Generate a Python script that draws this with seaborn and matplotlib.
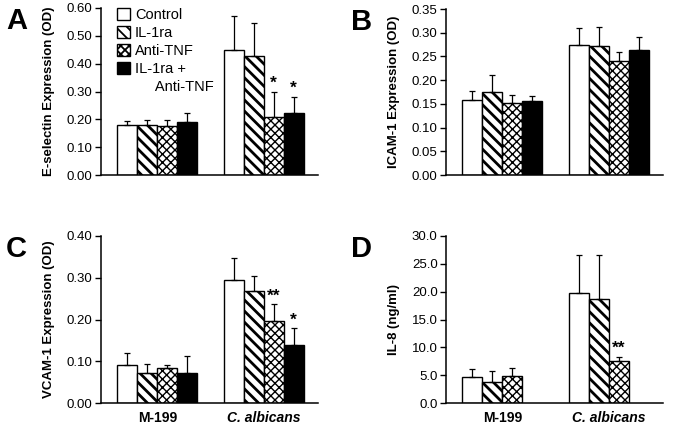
import numpy as np
import pandas as pd
import matplotlib
matplotlib.use("Agg")
import matplotlib.pyplot as plt
import matplotlib.patches as mpatches
import seaborn as sns

sns.set_theme(style="ticks")
plt.rcParams["font.family"] = ["Liberation Sans", "DejaVu Sans"]
plt.rcParams["hatch.linewidth"] = 1.3
plt.rcParams["text.color"] = "black"
plt.rcParams["xtick.color"] = "black"
plt.rcParams["ytick.color"] = "black"
plt.rcParams["axes.edgecolor"] = "black"
plt.rcParams["axes.labelcolor"] = "black"

# Data (mean, upward SD)
groups = ["M-199", "C. albicans"]
treatments = ["Control", "IL-1ra", "Anti-TNF", "IL-1ra + Anti-TNF"]

esel_mean = [[0.180, 0.178, 0.176, 0.192], [0.450, 0.428, 0.210, 0.222]]
esel_err = [[0.013, 0.020, 0.022, 0.030], [0.120, 0.117, 0.088, 0.060]]

icam_mean = [[0.158, 0.175, 0.152, 0.155], [0.275, 0.271, 0.240, 0.263]]
icam_err = [[0.020, 0.035, 0.017, 0.011], [0.035, 0.041, 0.020, 0.027]]

vcam_mean = [[0.090, 0.071, 0.083, 0.071], [0.295, 0.268, 0.196, 0.140]]
vcam_err = [[0.029, 0.023, 0.007, 0.041], [0.053, 0.035, 0.040, 0.039]]

il8_mean = [[4.6, 3.8, 4.9, np.nan], [19.8, 18.7, 7.5, np.nan]]
il8_err = [[1.5, 1.9, 1.4, np.nan], [6.8, 7.8, 0.8, np.nan]]

# significance marks: (group index, treatment index) -> text
esel_sig = {(1, 2): "*", (1, 3): "*"}
vcam_sig = {(1, 2): "**", (1, 3): "*"}
il8_sig = {(1, 2): "**"}

colors = ["white", "white", "white", "black"]
hatches = ["", "\\\\\\", "xxxx", ""]
hatch_lw = [1.0, 2.0, 1.0, 1.0]


def make_df(mean, err):
    rows = []
    for gi, g in enumerate(groups):
        for ti, t in enumerate(treatments):
            rows.append({"group": g, "treatment": t,
                         "value": mean[gi][ti], "err": err[gi][ti]})
    return pd.DataFrame(rows).dropna()


def style_bar(bar, ti):
    bar.set_hatch(hatches[ti])
    if hasattr(bar, "set_hatch_linewidth"):
        bar.set_hatch_linewidth(hatch_lw[ti])


def panel(ax, mean, err, sig, ylim, step, fmt, ylabel, letter, xlabels):
    df = make_df(mean, err)
    sns.barplot(data=df, x="group", y="value", hue="treatment",
                order=groups, hue_order=treatments, palette=colors,
                edgecolor="black", linewidth=1.0, width=0.75, gap=0,
                errorbar=None, legend=False, ax=ax)
    bar_conts = list(ax.containers)
    for ti, cont in enumerate(bar_conts):
        sub = df[df["treatment"] == treatments[ti]]
        xs, ys = [], []
        for bar in cont:
            style_bar(bar, ti)
            xs.append(bar.get_x() + bar.get_width() / 2)
            ys.append(bar.get_height())
        errs = sub["err"].values
        ax.errorbar(xs, ys, yerr=[np.zeros(len(errs)), errs], fmt="none",
                    ecolor="black", elinewidth=0.9, capsize=2.5,
                    capthick=0.9, zorder=5)
        for gi, (x, y, e) in enumerate(zip(xs, ys, errs)):
            if (gi, ti) in sig:
                ax.text(x, y + e + ylim * 0.005, sig[(gi, ti)], ha="center",
                        va="bottom", fontsize=12.5, fontweight="bold")
    ax.set_xlim(-0.53, 1.51)
    ax.set_ylim(0, ylim)
    ticks = np.arange(0, ylim + step / 2, step)
    ax.set_yticks(ticks)
    ax.set_yticklabels([fmt.format(v) for v in ticks], fontsize=9.5)
    ax.tick_params(axis="y", length=4, width=1, pad=2)
    ax.tick_params(axis="x", length=0, pad=6)
    ax.set_xlabel("")
    ax.set_ylabel(ylabel, fontsize=9.5, fontweight="bold")
    ax.yaxis.set_label_coords(-0.21, 0.5)
    if xlabels:
        ax.set_xticks([0, 1])
        ax.set_xticklabels(groups, fontsize=10, fontweight="bold")
        ax.get_xticklabels()[1].set_style("italic")
    else:
        ax.set_xticklabels([])
    for s in ["left", "bottom"]:
        ax.spines[s].set_linewidth(1.1)
    sns.despine(ax=ax)
    pos = ax.get_position()
    ax.figure.text(pos.x0 - 0.141, pos.y1 - 0.03, letter, fontsize=21,
                   fontweight="bold", ha="left", va="center")


fig = plt.figure(figsize=(6.75, 4.33), dpi=100)
W, H = 675, 433
ax_a = fig.add_axes([101 / W, 1 - 175 / H, 217 / W, 167 / H])
ax_b = fig.add_axes([446 / W, 1 - 175 / H, 217 / W, 166 / H])
ax_c = fig.add_axes([101 / W, 1 - 403 / H, 217 / W, 167 / H])
ax_d = fig.add_axes([446 / W, 1 - 403 / H, 217 / W, 167 / H])

panel(ax_a, esel_mean, esel_err, esel_sig, 0.60, 0.10, "{:.2f}",
      "E-selectin Expression (OD)", "A", False)
panel(ax_b, icam_mean, icam_err, {}, 0.35, 0.05, "{:.2f}",
      "ICAM-1 Expression (OD)", "B", False)
panel(ax_c, vcam_mean, vcam_err, vcam_sig, 0.40, 0.10, "{:.2f}",
      "VCAM-1 Expression (OD)", "C", True)
panel(ax_d, il8_mean, il8_err, il8_sig, 30.0, 5.0, "{:.1f}",
      "IL-8 (ng/ml)", "D", True)

# legend in panel A
handles = []
for i in range(4):
    p = mpatches.Patch(facecolor=colors[i], edgecolor="black",
                       hatch=hatches[i], linewidth=1.0)
    style_bar(p, i)
    handles.append(p)
handles.append(mpatches.Patch(facecolor="none", edgecolor="none"))
labels = ["Control", "IL-1ra", "Anti-TNF", "IL-1ra +", "     Anti-TNF"]
ax_a.legend(handles, labels, loc="upper left", bbox_to_anchor=(0.075, 1.0),
            frameon=False, fontsize=10.5, handlelength=0.85, handleheight=0.85,
            handletextpad=0.35, labelspacing=0.28, borderaxespad=0,
            borderpad=0)

fig.savefig("out.png", dpi=100)
